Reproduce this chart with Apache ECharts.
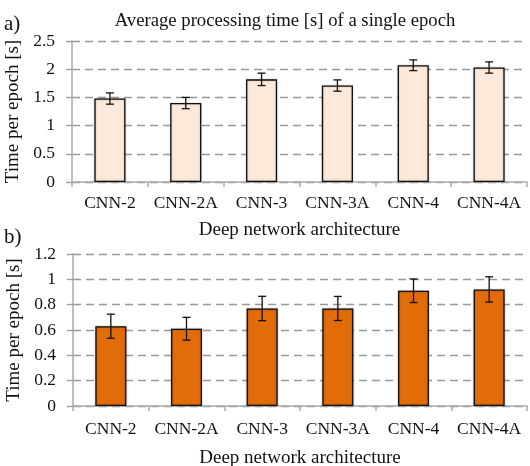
<!DOCTYPE html>
<html>
<head>
<meta charset="utf-8">
<script src="https://cdn.jsdelivr.net/npm/echarts@6/dist/echarts.min.js"></script>
<style>html,body{margin:0;padding:0;background:#fff;}#c{width:530px;height:466px;}</style>
</head>
<body>
<div id="c"></div>
<script>
var categories = ['CNN-2', 'CNN-2A', 'CNN-3', 'CNN-3A', 'CNN-4', 'CNN-4A'];
var timeA = [1.48, 1.40, 1.82, 1.71, 2.07, 2.03];
var errA = [0.10, 0.10, 0.11, 0.10, 0.095, 0.10];
var timeB = [0.63, 0.61, 0.77, 0.77, 0.91, 0.92];
var errB = [0.095, 0.09, 0.096, 0.095, 0.093, 0.10];
var yTicksA = [0, 0.5, 1, 1.5, 2, 2.5];
var yTicksB = [0, 0.2, 0.4, 0.6, 0.8, 1, 1.2];

var FONT = 'Liberation Serif';
var chart = echarts.init(document.getElementById('c'));

function errSeries(idx, vals, errs) {
  return {
    type: 'custom', xAxisIndex: idx, yAxisIndex: idx, z: 5,
    data: vals.map(function (v, i) { return [i, v - errs[i], v + errs[i]]; }),
    renderItem: function (params, api) {
      var lo = api.coord([api.value(0), api.value(1)]);
      var hi = api.coord([api.value(0), api.value(2)]);
      var hw = 4;
      var st = { stroke: '#111', lineWidth: 1.3 };
      return { type: 'group', children: [
        { type: 'line', shape: { x1: lo[0], y1: lo[1], x2: hi[0], y2: hi[1] }, style: st },
        { type: 'line', shape: { x1: lo[0] - hw, y1: lo[1], x2: lo[0] + hw, y2: lo[1] }, style: st },
        { type: 'line', shape: { x1: hi[0] - hw, y1: hi[1], x2: hi[0] + hw, y2: hi[1] }, style: st }
      ]};
    }
  };
}

function xAx(idx, gap, lm) {
  return {
    type: 'category', gridIndex: idx, data: categories,
    name: 'Deep network architecture', nameLocation: 'middle', nameGap: gap,
    nameTextStyle: { fontFamily: FONT, fontSize: 19, color: '#111' },
    axisLine: { lineStyle: { color: '#aaa', width: 1.5 } },
    axisTick: { show: true, length: 5, lineStyle: { color: '#aaa', width: 1.5 } },
    axisLabel: { fontFamily: FONT, fontSize: 17.5, color: '#111', margin: lm, interval: 0 },
    splitLine: { show: false }
  };
}
function yAx(idx, ticks) {
  return {
    type: 'value', gridIndex: idx, min: ticks[0], max: ticks[ticks.length - 1],
    interval: ticks[1] - ticks[0],
    name: 'Time per epoch [s]', nameLocation: 'middle', nameGap: 41,
    nameTextStyle: { fontFamily: FONT, fontSize: 19, color: '#111' },
    axisLine: { show: true, lineStyle: { color: '#aaa', width: 1.5 } },
    axisTick: { show: true, length: 6, lineStyle: { color: '#999', width: 1.3, type: 'solid' } },
    axisLabel: { fontFamily: FONT, fontSize: 17.5, color: '#111', margin: 17,
      formatter: function (v) { return String(Math.round(v * 10) / 10); } },
    splitLine: { show: true, lineStyle: { color: '#999', width: 1.3, type: [8, 5] } }
  };
}

chart.setOption({
  animation: false,
  title: { text: 'Average processing time [s] of a single epoch', left: 280, textAlign: 'center', top: 7,
    textStyle: { fontFamily: FONT, fontSize: 18.7, fontWeight: 'normal', color: '#111' } },
  graphic: [
    { type: 'text', left: 4, top: 14, style: { text: 'a)', font: '21px "Liberation Serif"', fill: '#111' } },
    { type: 'text', left: 4, top: 227, style: { text: 'b)', font: '21px "Liberation Serif"', fill: '#111' } }
  ],
  grid: [
    { left: 72, right: 3, top: 41, height: 141, outerBoundsMode: 'none', containLabel: false },
    { left: 73, right: 3, top: 254, height: 152, outerBoundsMode: 'none', containLabel: false }
  ],
  xAxis: [xAx(0, 39, 12), xAx(1, 43, 14)],
  yAxis: [yAx(0, yTicksA), yAx(1, yTicksB)],
  series: [
    { type: 'bar', xAxisIndex: 0, yAxisIndex: 0, data: timeA, barWidth: '41%',
      itemStyle: { color: '#fde9d9', borderColor: '#111', borderWidth: 1.3,
        shadowColor: 'rgba(0,0,0,0.25)', shadowBlur: 2 } },
    errSeries(0, timeA, errA),
    { type: 'bar', xAxisIndex: 1, yAxisIndex: 1, data: timeB, barWidth: '41%',
      itemStyle: { color: '#e36c0a', borderColor: '#111', borderWidth: 1.3,
        shadowColor: 'rgba(0,0,0,0.3)', shadowBlur: 2 } },
    errSeries(1, timeB, errB)
  ]
});
</script>
</body>
</html>
